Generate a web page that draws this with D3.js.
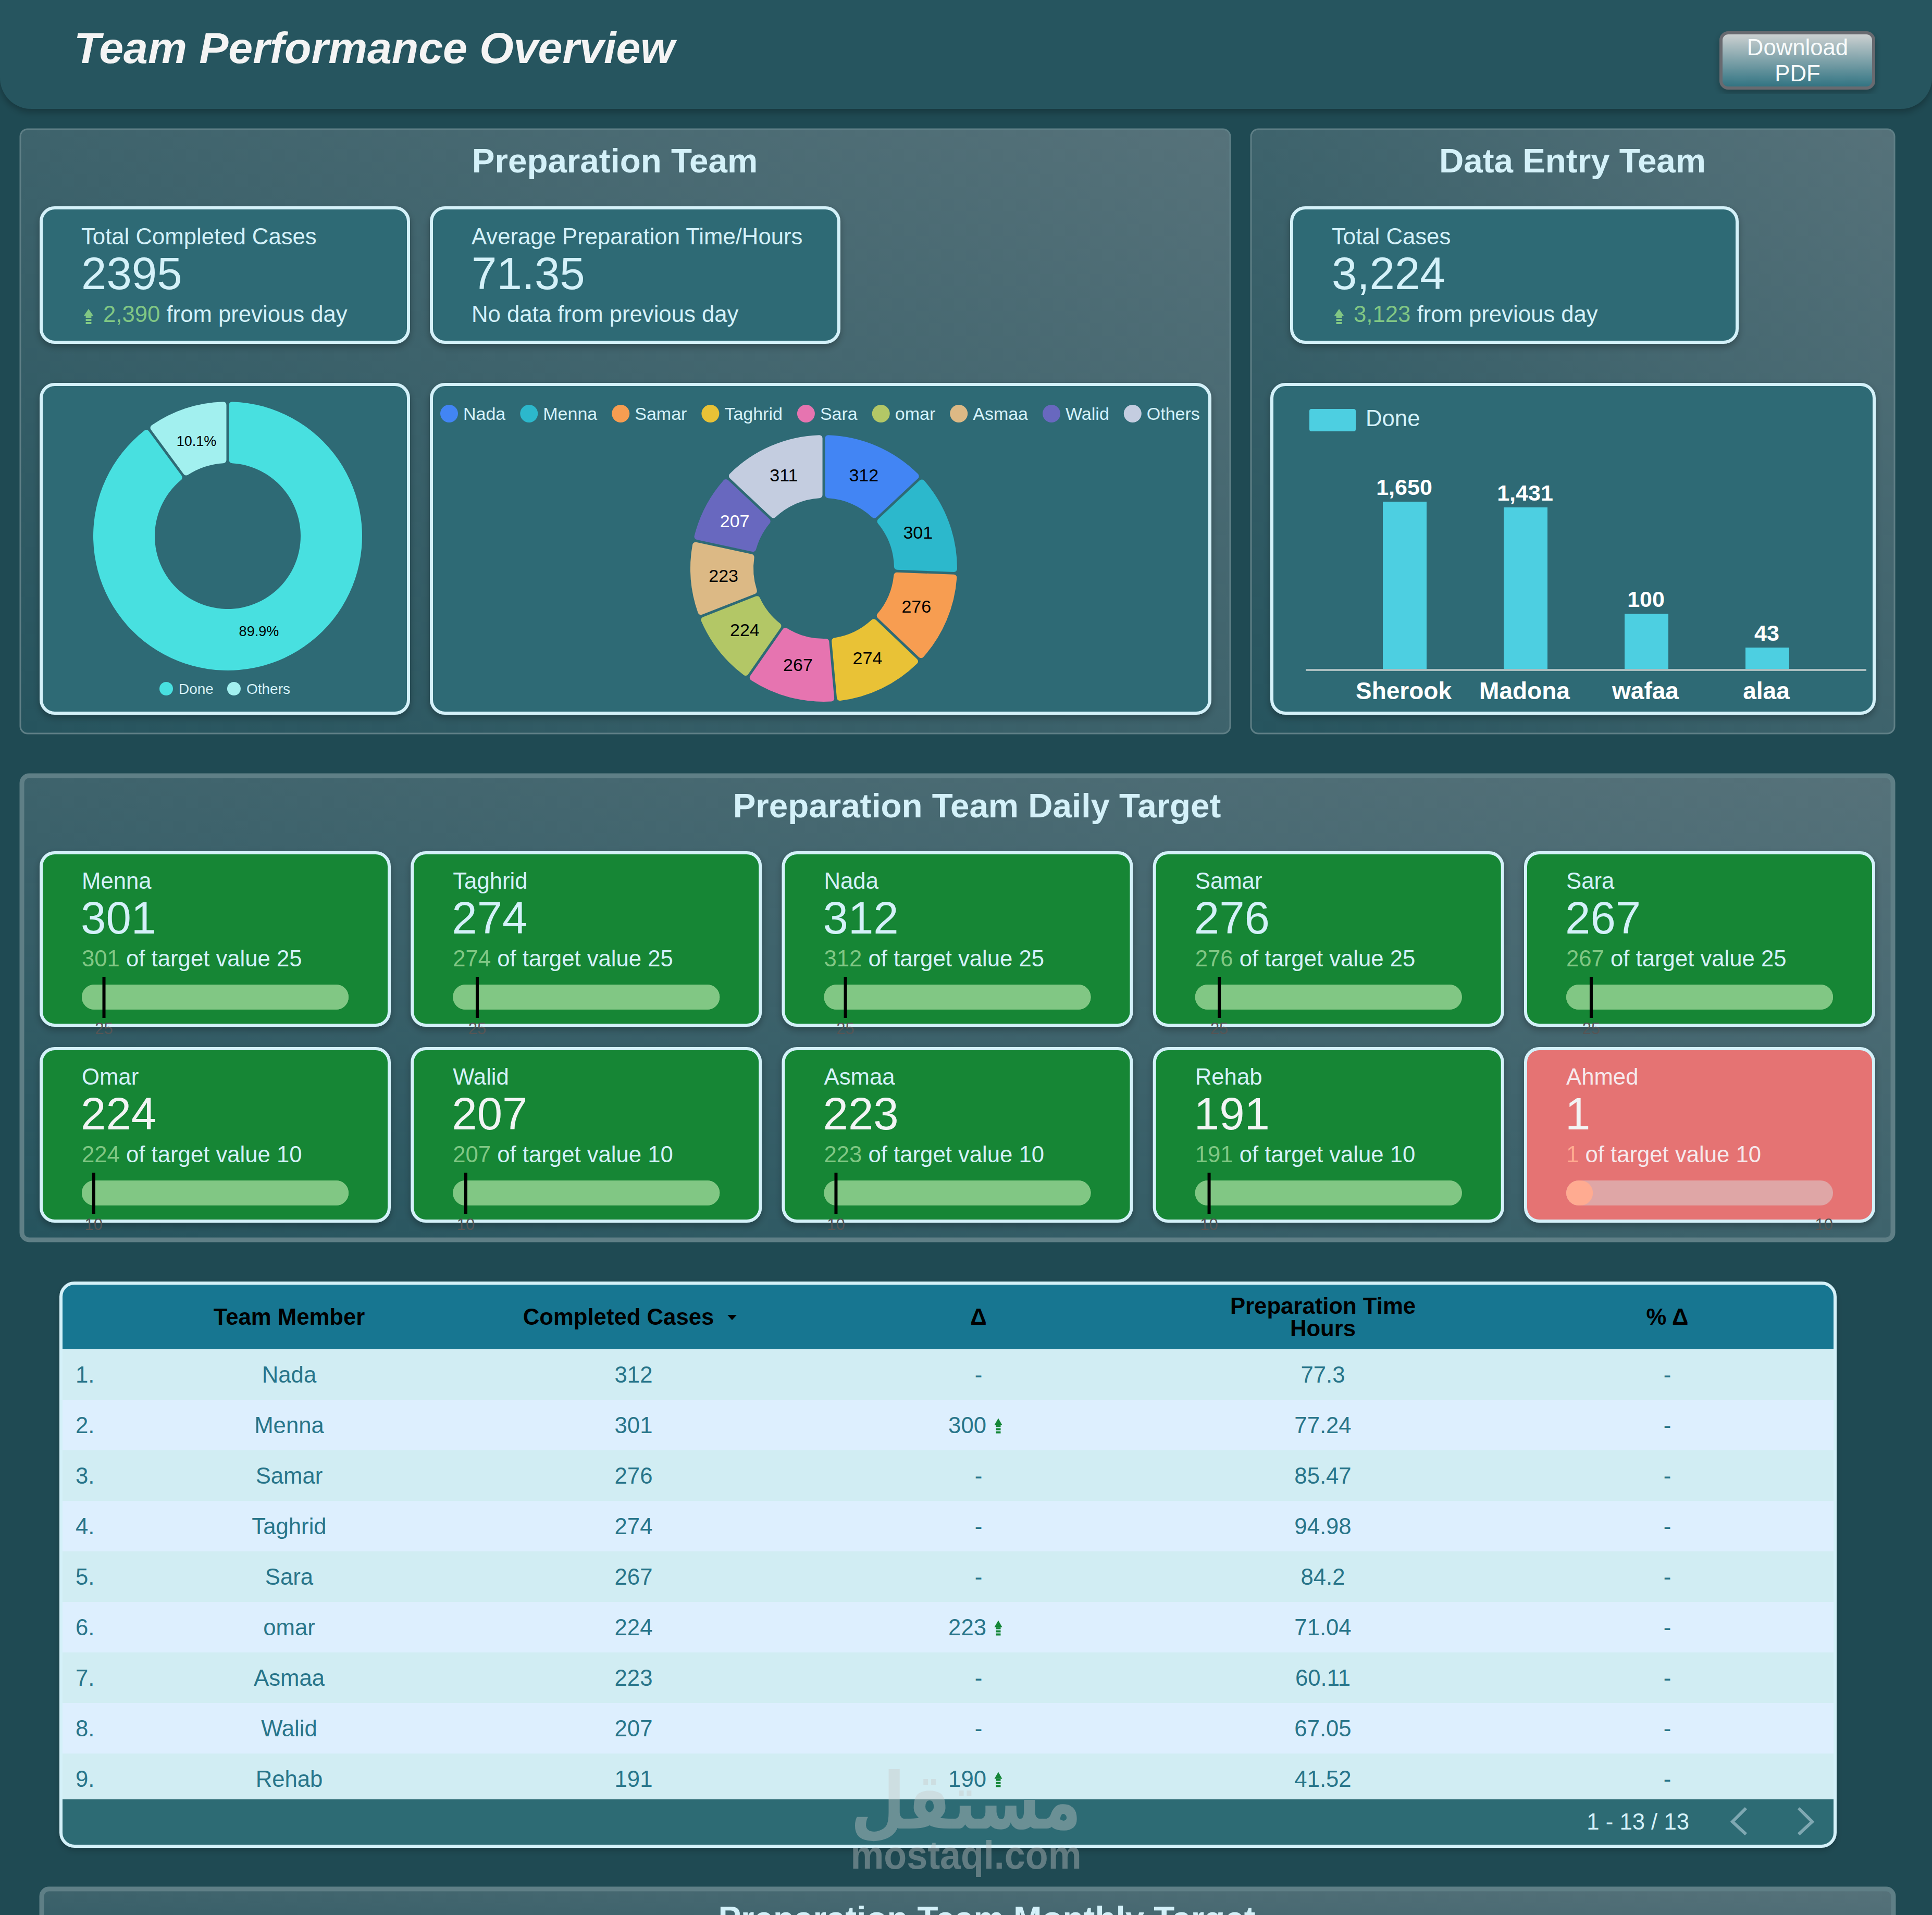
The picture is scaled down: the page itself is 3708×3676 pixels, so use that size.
<!DOCTYPE html>
<html>
<head>
<meta charset="utf-8">
<title>Team Performance Overview</title>
<script src="https://cdn.jsdelivr.net/npm/d3@7/dist/d3.min.js"></script>
<style>
html,body{margin:0;padding:0;background:#1f4a53;}
svg{display:block;}
text{font-family:"Liberation Sans",Arial,sans-serif;}
</style>
</head>
<body>
<div class="chart"></div>
<script>
// donut 1
const statusLabels = ['Done','Others'];
const statusValues = [89.9,10.1];
const statusColors = ['#48e0e0','#a2f0ef'];
// donut 2
const memberNames = ['Nada','Menna','Samar','Taghrid','Sara','omar','Asmaa','Walid','Others'];
const memberCases = [312,301,276,274,267,224,223,207,311];
const memberColors = ['#4285f4','#2cb8cc','#f79d51','#e9c236','#e674b0','#b3c766','#dcb985','#6868bf','#c4cde0'];
// data entry bars
const entryNames = ['Sherook','Madona','wafaa','alaa'];
const entryDone = [1650,1431,100,43];
// daily target cards
const dailyNames = ['Menna','Taghrid','Nada','Samar','Sara','Omar','Walid','Asmaa','Rehab','Ahmed'];
const dailyValues = [301,274,312,276,267,224,207,223,191,1];
const dailyTargets = [25,25,25,25,25,10,10,10,10,10];
// table
const tableNames = ['Nada','Menna','Samar','Taghrid','Sara','omar','Asmaa','Walid','Rehab'];
const tableCases = [312,301,276,274,267,224,223,207,191];
const tableDelta = [null,300,null,null,null,223,null,null,190];
const tableHours = [77.3,77.24,85.47,94.98,84.2,71.04,60.11,67.05,41.52];

const light = '#d4f1f9', cardFill = '#2d6b74', green = '#81c784';
const fs = 43.7;

const svg = d3.select('.chart').append('svg').attr('width',3708).attr('height',3676);
const defs = svg.append('defs');

// shadow
const shadow = defs.append('filter').attr('id','shadow').attr('x','-5%').attr('y','-5%').attr('width','110%').attr('height','115%');
shadow.append('feDropShadow').attr('dx',0).attr('dy',6).attr('stdDeviation',7).attr('flood-color','#000').attr('flood-opacity',0.28);

// panel gradient, dark bottom left to grey top right
const pg = defs.append('linearGradient').attr('id','panelGrad').attr('x1',0).attr('y1',1).attr('x2',1).attr('y2',0);
pg.append('stop').attr('offset','0%').attr('stop-color','#26545e');
pg.append('stop').attr('offset','100%').attr('stop-color','#56727a');

const bg = defs.append('linearGradient').attr('id','btnGrad').attr('x1',0).attr('y1',0).attr('x2',0).attr('y2',1);
bg.append('stop').attr('offset','0%').attr('stop-color','#d0d3d3');
bg.append('stop').attr('offset','100%').attr('stop-color','#2d7180');

function label(g,x,y,str,size,fill,opts){
	opts = opts || {};
	return g.append('text').attr('x',x).attr('y',y).text(str)
		.attr('font-size',size).attr('fill',fill)
		.attr('font-weight',opts.weight || 'normal')
		.attr('font-style',opts.style || 'normal')
		.attr('text-anchor',opts.anchor || 'start');
}
function box(x,y,w,h,fill){
	return svg.append('rect').attr('x',x).attr('y',y).attr('width',w).attr('height',h)
		.attr('rx',26).attr('fill',fill).attr('stroke',light).attr('stroke-width',6)
		.attr('filter','url(#shadow)');
}
function panel(x,y,w,h,border){
	svg.append('rect').attr('x',x).attr('y',y).attr('width',w).attr('height',h).attr('rx',14)
		.attr('fill','url(#panelGrad)').attr('stroke','#5f7f86').attr('stroke-width',border);
}
// small up arrow with a broken stem
function upArrow(x,y,w,color){
	const g = svg.append('g').attr('transform','translate('+x+','+y+')').attr('fill',color);
	g.append('path').attr('d','M0,-13L'+(w/2)+',0L'+(-w/2)+',0Z');
	g.append('rect').attr('x',-w*0.3).attr('y',0).attr('width',w*0.6).attr('height',4);
	g.append('rect').attr('x',-w*0.3).attr('y',6).attr('width',w*0.6).attr('height',4);
	g.append('rect').attr('x',-w*0.3).attr('y',12).attr('width',w*0.6).attr('height',4);
}

// header
svg.append('path').attr('d','M0,0H3708V149A60,60 0 0 1 3648,209H60A60,60 0 0 1 0,149Z')
	.attr('fill','#26555e').attr('filter','url(#shadow)');
label(svg,142,121,'Team Performance Overview',84.2,'#f4f4f4',{weight:'bold',style:'italic'});
svg.append('rect').attr('x',3303).attr('y',63).attr('width',293).attr('height',106).attr('rx',14)
	.attr('fill','url(#btnGrad)').attr('stroke','#686b70').attr('stroke-width',6).attr('filter','url(#shadow)');
label(svg,3450,106,'Download',fs,'#f8fbfb',{anchor:'middle'});
label(svg,3450,156,'PDF',fs,'#f8fbfb',{anchor:'middle'});

// panels
panel(39,248,2322,1160,3);
panel(2401,248,1235,1160,3);
panel(42,1489,3591,891,9);
panel(80,3626,3554,200,9);
label(svg,1180,331,'Preparation Team',65.5,light,{weight:'bold',anchor:'middle'});
label(svg,3018,331,'Data Entry Team',65.5,light,{weight:'bold',anchor:'middle'});
label(svg,1875,1569,'Preparation Team Daily Target',65.5,light,{weight:'bold',anchor:'middle'});
label(svg,1894,3705,'Preparation Team Monthly Target',65.5,light,{weight:'bold',anchor:'middle'});

// kpi cards
function kpi(x,w,title,value,delta,rest){
	box(x,399,w,258,cardFill);
	label(svg,x+77,469,title,fs,light);
	label(svg,x+77,555,value,87,light);
	if(delta){
		upArrow(x+91,606,18,green);
		const t = label(svg,x+119,618,delta,fs,green);
		t.append('tspan').attr('fill',light).text(' '+rest);
	}else{
		label(svg,x+77,618,rest,fs,light);
	}
}
kpi(79,705,'Total Completed Cases','2395','2,390','from previous day');
kpi(828,782,'Average Preparation Time/Hours','71.35',null,'No data from previous day');
kpi(2479,855,'Total Cases','3,224','3,123','from previous day');

// donut cards
box(79,738,705,631,cardFill);
box(828,738,1494,631,cardFill);
box(2441,738,1156,631,cardFill);

// done / others donut
const pie = d3.pie().sort(null);
const statusArc = d3.arc().innerRadius(140).outerRadius(258).padAngle(0.017).cornerRadius(6);
const statusLabelArc = d3.arc().innerRadius(127).outerRadius(257);
const statusG = svg.append('g').attr('transform','translate(437,1029)');
const statusPie = pie(statusValues);
statusG.selectAll('path').data(statusPie).enter().append('path')
	.attr('d',statusArc)
	.attr('fill',(d,i)=>statusColors[i]);
statusG.selectAll('text').data(statusPie).enter().append('text')
	.attr('transform',d=>'translate('+statusLabelArc.centroid(d)+')')
	.attr('text-anchor','middle').attr('dy','.35em')
	.attr('font-size',27).attr('fill','#000')
	.text((d,i)=>statusValues[i].toFixed(1)+'%');
let lx = 306;
statusLabels.forEach(function(name,i){
	svg.append('circle').attr('cx',lx+13).attr('cy',1322).attr('r',13).attr('fill',statusColors[i]);
	const t = label(svg,lx+37,1332,name,28,light);
	lx = lx + 37 + t.node().getComputedTextLength() + 26;
});

// member donut
const memberArc = d3.arc().innerRadius(135).outerRadius(256).padAngle(0.017).cornerRadius(6);
const memberLabelArc = d3.arc().innerRadius(130).outerRadius(256);
const memberG = svg.append('g').attr('transform','translate(1581,1091)');
const memberPie = pie(memberCases);
memberG.selectAll('path').data(memberPie).enter().append('path')
	.attr('d',memberArc)
	.attr('fill',(d,i)=>memberColors[i]);
memberG.selectAll('text').data(memberPie).enter().append('text')
	.attr('transform',d=>'translate('+memberLabelArc.centroid(d)+')')
	.attr('text-anchor','middle').attr('dy','.3em')
	.attr('font-size',34)
	.attr('fill',(d,i)=>memberNames[i]=='Walid' ? '#fff' : '#000')
	.text(d=>d.data);
let mx = 845;
memberNames.forEach(function(name,i){
	svg.append('circle').attr('cx',mx+17).attr('cy',794).attr('r',17).attr('fill',memberColors[i]);
	const t = label(svg,mx+44,806,name,34,light);
	mx = mx + 44 + t.node().getComputedTextLength() + 28;
});

// data entry bars, the axis is logarithmic
const barBase = 1286;
const scaleX = d3.scaleBand().domain(entryNames).range([2580,3508]).paddingInner(0.638).paddingOuter(0.319);
const scaleY = d3.scaleLog().domain([24.6,1650]).range([barBase,963]);
svg.append('rect').attr('x',2513).attr('y',785).attr('width',89).attr('height',43).attr('rx',4).attr('fill','#4dcfe1');
label(svg,2621,818,'Done',fs,light);
svg.selectAll('.bar').data(entryDone).enter().append('rect').attr('class','bar')
	.attr('x',(d,i)=>scaleX(entryNames[i]))
	.attr('y',d=>scaleY(d))
	.attr('width',scaleX.bandwidth())
	.attr('height',d=>barBase-scaleY(d))
	.attr('fill','#4dcfe1');
svg.selectAll('.barval').data(entryDone).enter().append('text').attr('class','barval')
	.attr('x',(d,i)=>scaleX(entryNames[i])+scaleX.bandwidth()/2-1)
	.attr('y',d=>scaleY(d)-13)
	.attr('text-anchor','middle').attr('font-size',43).attr('font-weight','bold').attr('fill','#fff')
	.text(d=>d3.format(',')(d));
const axisG = svg.append('g').attr('transform','translate(-2,'+barBase+')')
	.call(d3.axisBottom(scaleX).tickSize(0).tickPadding(23));
axisG.select('.domain').attr('d','M2508,0H3584').attr('stroke','#a9bdbf').attr('stroke-width',4);
axisG.selectAll('text').attr('font-size',46).attr('font-weight','bold').attr('fill','#fff')
	.attr('font-family','"Liberation Sans",Arial,sans-serif');

// daily target cards
dailyNames.forEach(function(name,i){
	const col = i%5, row = Math.floor(i/5);
	const x = 79 + col*712.25, y = 1637 + row*376;
	const hit = dailyValues[i] >= dailyTargets[i];
	box(x,y,668,331,hit ? '#138636' : '#e57373');
	label(svg,x+78,y+69,name,fs,hit ? light : '#f6e9ec');
	label(svg,x+76,y+155,dailyValues[i],87,(hit && row==0) ? light : '#f2f4f4');
	const t = label(svg,x+78,y+218,dailyValues[i],fs,hit ? green : '#ffab91');
	t.append('tspan').attr('fill',hit ? light : '#f6e9ec').text(' of target value '+dailyTargets[i]);
	// bullet
	const bx = x+78, by = y+253;
	const scale = d3.scaleLinear().domain([0,Math.max(dailyValues[i],dailyTargets[i])]).range([bx,bx+512]);
	svg.append('rect').attr('x',bx).attr('y',by).attr('width',512).attr('height',48).attr('rx',24)
		.attr('fill',hit ? green : '#dfa6a6');
	svg.append('rect').attr('x',bx).attr('y',by).attr('width',scale(dailyValues[i])-bx).attr('height',48).attr('rx',24)
		.attr('fill',hit ? green : '#ffab91');
	if(hit){
		svg.append('rect').attr('x',scale(dailyTargets[i])-3).attr('y',by-15).attr('width',6).attr('height',79).attr('fill','#000');
	}
	label(svg,hit ? scale(dailyTargets[i]) : bx+512,y+348,dailyTargets[i],31,'#555',{anchor:hit ? 'middle' : 'end'});
});

// table
const tableX = 117, tableW = 3405, tableTop = 2463, tableH = 1081;
defs.append('clipPath').attr('id','tableClip').append('rect')
	.attr('x',tableX).attr('y',tableTop).attr('width',tableW).attr('height',tableH).attr('rx',26);
svg.append('rect').attr('x',tableX).attr('y',tableTop).attr('width',tableW).attr('height',tableH).attr('rx',26)
	.attr('fill',cardFill).attr('filter','url(#shadow)');
const table = svg.append('g').attr('clip-path','url(#tableClip)');
table.append('rect').attr('x',tableX).attr('y',tableTop).attr('width',tableW).attr('height',127).attr('fill','#177691');
const rowY = d3.scaleBand().domain(d3.range(tableNames.length)).range([2590,3463]);
table.selectAll('.row').data(tableNames).enter().append('rect').attr('class','row')
	.attr('x',tableX).attr('y',(d,i)=>rowY(i)).attr('width',tableW).attr('height',rowY.bandwidth())
	.attr('fill',(d,i)=>i%2 ? '#ddeffe' : '#d1edf3');
table.append('rect').attr('x',tableX).attr('y',3454).attr('width',tableW).attr('height',95).attr('fill',cardFill);
svg.append('rect').attr('x',tableX).attr('y',tableTop).attr('width',tableW).attr('height',tableH).attr('rx',26)
	.attr('fill','none').attr('stroke',light).attr('stroke-width',6);

const colName = 555, colCases = 1216, colDelta = 1878, colHours = 2539, colPct = 3200;
label(svg,colName,2543,'Team Member',fs,'#000',{weight:'bold',anchor:'middle'});
label(svg,1187,2543,'Completed Cases',fs,'#000',{weight:'bold',anchor:'middle'});
svg.append('path').attr('d','M1396,2524H1414L1405,2534Z').attr('fill','#000');
label(svg,colDelta,2543,'Δ',fs,'#000',{weight:'bold',anchor:'middle'});
label(svg,colHours,2522,'Preparation Time',fs,'#000',{weight:'bold',anchor:'middle'});
label(svg,colHours,2565,'Hours',fs,'#000',{weight:'bold',anchor:'middle'});
label(svg,colPct,2543,'% Δ',fs,'#000',{weight:'bold',anchor:'middle'});

const textCol = '#28758a';
tableNames.forEach(function(name,i){
	const y = rowY(i) + rowY.bandwidth()/2 + 15;
	label(svg,145,y,(i+1)+'.',fs,textCol);
	label(svg,colName,y,name,fs,textCol,{anchor:'middle'});
	label(svg,colCases,y,tableCases[i],fs,textCol,{anchor:'middle'});
	if(tableDelta[i]){
		label(svg,1893,y,tableDelta[i],fs,textCol,{anchor:'end'});
		upArrow(1916,y-15,15,'#138636');
	}else{
		label(svg,colDelta,y,'-',fs,textCol,{anchor:'middle'});
	}
	label(svg,colHours,y,tableHours[i],fs,textCol,{anchor:'middle'});
	label(svg,colPct,y,'-',fs,textCol,{anchor:'middle'});
});
label(svg,3242,3512,'1 - 13 / 13',fs,light,{anchor:'end'});
svg.append('path').attr('d','M3351,3471L3325,3497L3351,3521').attr('fill','none').attr('stroke','#7fa8b2').attr('stroke-width',6);
svg.append('path').attr('d','M3452,3471L3478,3497L3452,3521').attr('fill','none').attr('stroke','#7fa8b2').attr('stroke-width',6);

// watermark
const mark = svg.append('g').attr('opacity',0.4).attr('fill','#c8c8c8');
mark.append('text').attr('x',1854).attr('y',3510).attr('text-anchor','middle')
	.attr('font-size',150).attr('font-weight','bold')
	.attr('textLength',443).attr('lengthAdjust','spacingAndGlyphs')
	.style('font-family','"DejaVu Sans",sans-serif').text('مستقل');
mark.append('text').attr('x',1854).attr('y',3587).attr('text-anchor','middle')
	.attr('font-size',76).attr('font-weight','bold')
	.attr('textLength',443).attr('lengthAdjust','spacingAndGlyphs').text('mostaql.com');
</script>
</body>
</html>
